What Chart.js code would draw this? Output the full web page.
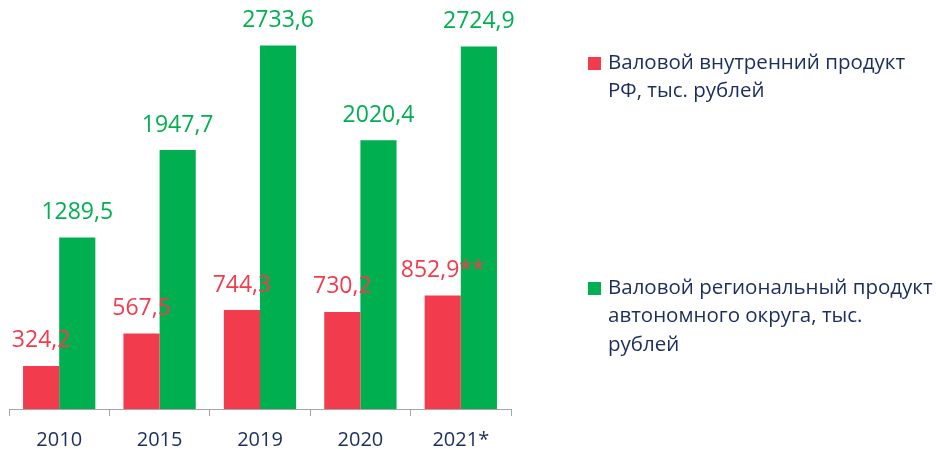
<!DOCTYPE html>
<html>
<head>
<meta charset="utf-8">
<script src="https://cdn.jsdelivr.net/npm/chart.js@4/dist/chart.umd.min.js"></script>
<style>
html,body{margin:0;padding:0;background:#fff;}
#wrap{width:936px;height:449px;position:relative;}
</style>
</head>
<body>
<div id="wrap"><canvas id="c"></canvas></div>
<script>
const categories = ['2010', '2015', '2019', '2020', '2021*'];
const gdpRF = [324.2, 567.5, 744.3, 730.2, 852.9];
const grpRegion = [1289.5, 1947.7, 2733.6, 2020.4, 2724.9];
const gdpNotes = ['', '', '', '', '**'];
const grpNotes = ['', '', '', '', ''];
const seriesNames = [
  ['Валовой внутренний продукт', 'РФ, тыс. рублей'],
  ['Валовой региональный продукт', 'автономного округа, тыс.', 'рублей']
];
const RED = '#F23B4C';
const GREEN = '#00B050';
const NAVY = '#1C2D5E';
const FONT = "'Open Sans', sans-serif";

function fmt(v) { return v.toFixed(1).replace('.', ','); }

const valueLabels = {
  id: 'valueLabels',
  afterDatasetsDraw(chart) {
    const ctx = chart.ctx;
    ctx.save();
    ctx.font = '23px ' + FONT;
    ctx.textAlign = 'center';
    ctx.textBaseline = 'middle';
    chart.data.datasets.forEach((ds, di) => {
      const meta = chart.getDatasetMeta(di);
      meta.data.forEach((bar, i) => {
        ctx.fillStyle = ds.backgroundColor;
        ctx.fillText(fmt(ds.data[i]) + ds.notes[i], bar.x, bar.y - 25);
      });
    });
    ctx.restore();
  }
};

const sideLegend = {
  id: 'sideLegend',
  afterDraw(chart) {
    const ctx = chart.ctx;
    ctx.save();
    ctx.font = '20.5px ' + FONT;
    ctx.textBaseline = 'middle';
    ctx.textAlign = 'left';
    const tops = [63, 288];
    chart.data.datasets.forEach((ds, di) => {
      const y0 = tops[di];
      ctx.fillStyle = ds.backgroundColor;
      ctx.fillRect(588, y0 - 6, 13, 13);
      ctx.fillStyle = NAVY;
      ds.legendLines.forEach((line, li) => {
        ctx.fillText(line, 608, y0 + li * 28.5);
      });
    });
    ctx.restore();
  }
};

new Chart(document.getElementById('c'), {
  type: 'bar',
  data: {
    labels: categories,
    datasets: [
      { label: seriesNames[0].join(' '), legendLines: seriesNames[0], data: gdpRF, notes: gdpNotes,
        backgroundColor: RED, borderWidth: 0 },
      { label: seriesNames[1].join(' '), legendLines: seriesNames[1], data: grpRegion, notes: grpNotes,
        backgroundColor: GREEN, borderWidth: 0 }
    ]
  },
  options: {
    responsive: true,
    maintainAspectRatio: false,
    animation: false,
    layout: { padding: { left: 9, right: 425, top: 10, bottom: 0 } },
    datasets: { bar: { categoryPercentage: 0.72, barPercentage: 1.0 } },
    plugins: { legend: { display: false }, tooltip: { enabled: false } },
    scales: {
      y: { display: false, min: 0, max: 3000 },
      x: {
        afterFit(scale) { scale.height = 40; },
        grid: { display: true, drawOnChartArea: false, drawTicks: true, tickLength: 7, color: '#A6A6A6', offset: true },
        border: { display: true, color: '#A6A6A6', width: 1 },
        ticks: { color: NAVY, font: { family: FONT, size: 20 }, padding: 12 }
      }
    }
  },
  plugins: [valueLabels, sideLegend]
});
</script>
</body>
</html>
